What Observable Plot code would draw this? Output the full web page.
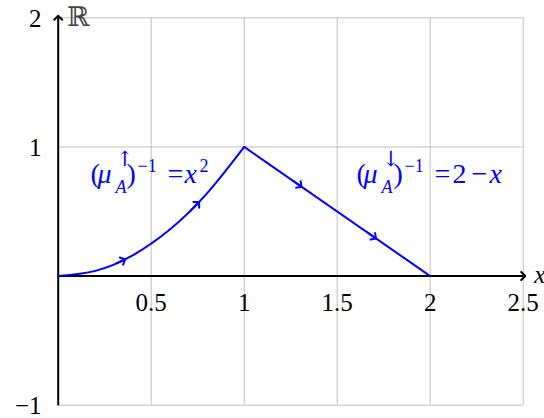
<!DOCTYPE html>
<html><head><meta charset="utf-8">
<script src="https://cdn.jsdelivr.net/npm/d3@7"></script>
<script src="https://cdn.jsdelivr.net/npm/@observablehq/plot@0.6"></script>
<style>
html,body{margin:0;padding:0;background:#fff;}
#chart svg{display:block}
#chart svg text { font-family: "Liberation Serif", "Times New Roman", "DejaVu Serif", serif; }
</style>
</head><body>
<div id="chart"></div>
<script>
// ---- data ----
const xTicks = [0.5, 1, 1.5, 2, 2.5];
const xTickLabels = ["0.5", "1", "1.5", "2", "2.5"];
const yTicks = [2, 1, -1];
const yTickLabels = ["2", "1", "\u22121"];
const gridX = [0.5, 1, 1.5, 2, 2.5];
const gridY = [-1, 0, 1, 2];
const riseX = [0, 0.2, 0.4, 0.6, 0.8, 1];
const riseY = [0, 0.04, 0.16, 0.36, 0.64, 1];
const fallX = [1, 2];
const fallY = [1, 0];
const arrowTipX = [0.35, 0.75, 1.3, 1.7];
const arrowTipY = [0.1225, 0.5625, 0.7, 0.3];
const arrowTailX = [0.31, 0.71, 1.26, 1.66];
const arrowTailY = [0.096, 0.504, 0.74, 0.34];
const eqTexts = ["(\u03bc\u2191A)\u22121 = x2", "(\u03bc\u2193A)\u22121 = 2 \u2212 x"];
const eqX = [0.174, 1.604];
const eqY = [0.72, 0.72];
const axisXLabel = "x";
const axisYLabel = "\u211d";

// ---- tables ----
const rise = riseX.map((x, i) => ({x, y: riseY[i]}));
const fall = fallX.map((x, i) => ({x, y: fallY[i]}));
const arrows = arrowTipX.map((x, i) => ({x1: arrowTailX[i], y1: arrowTailY[i], x2: x, y2: arrowTipY[i]}));
const xt = xTicks.map((v, i) => ({v, label: xTickLabels[i]}));
const yt = yTicks.map((v, i) => ({v, label: yTickLabels[i]}));
const eqs = eqTexts.map((t, i) => ({t, x: eqX[i], y: eqY[i]}));

const BLUE = "#0000ff", GRID = "#c0c0c0";
const FS = 25;
const SERIF = "'Liberation Serif', 'Times New Roman', serif";

const plot = Plot.plot({
  width: 544, height: 418,
  marginLeft: 57.7, marginRight: 21.3, marginTop: 17.3, marginBottom: 13.3,
  x: {domain: [0, 2.5], axis: null},
  y: {domain: [-1, 2], axis: null},
  style: {fontFamily: SERIF, background: "#fff", color: "black"},
  marks: [
    Plot.ruleX(gridX, {x: d => d, y1: -1, y2: 2, stroke: GRID, strokeWidth: 1}),
    Plot.ruleY(gridY, {y: d => d, x1: 0, x2: 2.5, stroke: GRID, strokeWidth: 1}),
    Plot.link([{x1: 0, y1: -1, x2: 0, y2: 2}], {x1: "x1", y1: "y1", x2: "x2", y2: "y2", stroke: "black", strokeWidth: 2, markerEnd: "arrow"}),
    Plot.link([{x1: 0, y1: 0, x2: 2.5, y2: 0}], {x1: "x1", y1: "y1", x2: "x2", y2: "y2", stroke: "black", strokeWidth: 2, markerEnd: "arrow"}),
    Plot.line(rise, {x: "x", y: "y", stroke: BLUE, strokeWidth: 2, curve: "natural"}),
    Plot.line(fall, {x: "x", y: "y", stroke: BLUE, strokeWidth: 2}),
    Plot.link(arrows, {x1: "x1", y1: "y1", x2: "x2", y2: "y2", stroke: BLUE, strokeWidth: 2, markerEnd: "arrow"}),
    Plot.text(xt, {x: "v", y: () => 0, text: "label", dy: 27.4, fontSize: FS, lineAnchor: "middle", fill: "black"}),
    Plot.text(yt, {x: () => 0, y: "v", text: "label", dx: -16.7, dy: 1, fontSize: FS, textAnchor: "end", lineAnchor: "middle", fill: "black"}),
    Plot.text([axisYLabel], {x: () => 0, y: () => 2, text: d => d, dx: 9, dy: 0, fontSize: 27, textAnchor: "start", lineAnchor: "middle", fill: "#444"}),
    Plot.text([axisXLabel], {x: () => 2.5, y: () => 0, text: d => d, dx: 11, dy: -1, fontSize: FS, fontStyle: "italic", textAnchor: "start", lineAnchor: "middle", fill: "black"}),
    Plot.text(eqs, {x: "x", y: "y", text: "t", fontSize: 28, textAnchor: "start", lineAnchor: "bottom", fill: BLUE, className: "eq"})
  ]
});
document.getElementById("chart").append(plot);

// rich math formatting of equation labels (r = start offset in px from label start)
const M = 28, S = 18;
const eqParts = [
  [{t: "(", r: 0}, {t: "\u03bc", i: 1, r: 7}, {sub: "A", sup: "\u2191", r: 25}, {t: ")", r: 36}, {t: "\u22121", s: -11, f: S, r: 47},
   {t: "=", r: 77}, {t: "x", i: 1, r: 94}, {t: "2", s: -11, f: S, r: 109}],
  [{t: "(", r: 0}, {t: "\u03bc", i: 1, r: 7}, {sub: "A", sup: "\u2193", r: 25}, {t: ")", r: 37}, {t: "\u22121", s: -11, f: S, r: 48},
   {t: "=", r: 78}, {t: "2", r: 96}, {t: "\u2212", r: 115}, {t: "x", i: 1, r: 133}]
];
d3.select(plot).selectAll("g.eq text").each(function(d, k) {
  const el = this;
  while (el.firstChild) el.removeChild(el.firstChild);
  let cur = 0, pos = 0;
  const put = (txt, rel, off, size, italic, fam) => {
    const ts = document.createElementNS("http://www.w3.org/2000/svg", "tspan");
    ts.textContent = txt;
    ts.setAttribute("dx", rel - pos);
    ts.setAttribute("dy", off - cur); cur = off;
    ts.setAttribute("font-size", size);
    if (italic) ts.setAttribute("font-style", "italic");
    ts.style.fontFamily = fam || SERIF;
    el.appendChild(ts);
    pos = rel + ts.getComputedTextLength();
    return ts;
  };
  for (const p of eqParts[k]) {
    if (p.sub) {
      put(p.sub, p.r, 10, S, true);
      put(p.sup, p.r + 0.5, -17, 21, false, "'DejaVu Serif', serif");
    } else {
      put(p.t, p.r, p.s || 0, p.f || M, p.i);
    }
  }
});
</script>
</body></html>
